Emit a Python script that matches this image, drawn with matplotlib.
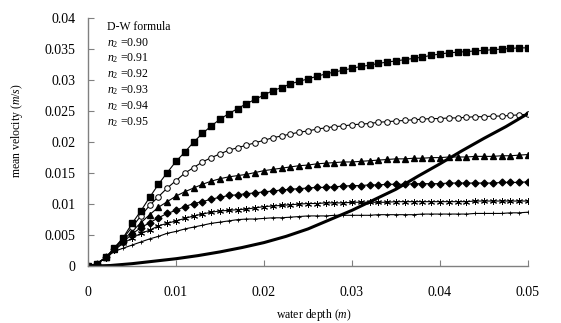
import numpy as np
import matplotlib
matplotlib.use('Agg')
import matplotlib.pyplot as plt

plt.rcParams['font.family'] = 'Liberation Serif'
plt.rcParams['mathtext.fontset'] = 'custom'
plt.rcParams['mathtext.rm'] = 'Liberation Serif'
plt.rcParams['mathtext.it'] = 'Liberation Serif:italic'

# water depth grid (m)
depth = np.round(np.arange(51) * 0.001, 3)

v_square = [0, .0004, .0014, .0030, .0046, .0069, .0089, .0111, .0132, .0151, .0169,
            .0184, .0200, .0214, .0226, .0237, .0246, .0254, .0262, .0269, .0276,
            .0283, .0288, .0294, .0298, .0302, .0306, .0310, .0313, .0316, .0319,
            .0322, .0324, .0327, .0329, .0331, .0333, .0335, .0337, .0340, .0342,
            .0344, .0345, .0346, .0347, .0348, .0349, .0350, .0351, .0352, .0352]
v_circle = [0, .0004, .0014, .0029, .0045, .0063, .0081, .0098, .0112, .0126, .0138,
            .0150, .0159, .0168, .0175, .0181, .0187, .0191, .0195, .0199, .0203,
            .0207, .0210, .0213, .0216, .0218, .0221, .0223, .0225, .0226, .0228,
            .0229, .0230, .0232, .0233, .0234, .0235, .0236, .0237, .0238, .0238,
            .0239, .0239, .0240, .0241, .0241, .0242, .0242, .0243, .0244, .0245]
v_triangle = [0, .0004, .0014, .0028, .0042, .0056, .0070, .0083, .0095, .0104, .0113,
              .0120, .0126, .0132, .0137, .0141, .0144, .0146, .0148, .0151, .0154,
              .0156, .0158, .0160, .0162, .0163, .0165, .0166, .0167, .0168, .0168,
              .0169, .0170, .0171, .0172, .0173, .0173, .0174, .0174, .0175, .0175,
              .0176, .0176, .0176, .0177, .0177, .0177, .0178, .0178, .0179, .0180]
v_diamond = [0, .0004, .0014, .0027, .0039, .0052, .0062, .0070, .0078, .0085, .0090,
             .0096, .0101, .0104, .0108, .0111, .0114, .0115, .0117, .0118, .0120,
             .0121, .0123, .0124, .0125, .0126, .0127, .0127, .0128, .0129, .0130,
             .0130, .0131, .0131, .0132, .0132, .0132, .0133, .0133, .0133, .0133,
             .0134, .0134, .0134, .0134, .0134, .0134, .0135, .0135, .0135, .0136]
v_star = [0, .0004, .0013, .0026, .0037, .0045, .0053, .0058, .0065, .0069, .0073,
          .0077, .0081, .0084, .0087, .0089, .0090, .0091, .0092, .0094, .0096,
          .0097, .0098, .0099, .0100, .0101, .0101, .0102, .0102, .0102, .0103,
          .0103, .0103, .0103, .0103, .0104, .0104, .0104, .0104, .0104, .0104,
          .0104, .0104, .0104, .0105, .0105, .0105, .0105, .0105, .0105, .0105]
v_plus = [0, .0004, .0013, .0024, .0029, .0034, .0039, .0044, .0048, .0053, .0056,
          .0060, .0063, .0066, .0069, .0071, .0073, .0075, .0076, .0076, .0077,
          .0078, .0078, .0079, .0080, .0081, .0081, .0081, .0082, .0082, .0082,
          .0082, .0082, .0083, .0083, .0083, .0083, .0083, .0084, .0084, .0084,
          .0084, .0084, .0084, .0085, .0085, .0085, .0085, .0086, .0086, .0087]

# D-W formula
dw_depth = [0, .0025, .005, .0075, .01, .0125, .015, .0175, .02, .0225, .025,
            .0275, .03, .0325, .035, .0375, .04, .0425, .045, .0475, .05]
dw_vel = [0, .0001, .0004, .0008, .0012, .0017, .0023, .0030, .0038, .0048, .0060,
          .0075, .0090, .0107, .0124, .0145, .0165, .0186, .0206, .0225, .0246]

legend_lines = ['D-W formula', '$n_2$ =0.90', '$n_2$ =0.91', '$n_2$ =0.92',
                '$n_2$ =0.93', '$n_2$ =0.94', '$n_2$ =0.95']

fig = plt.figure(figsize=(5.61, 3.23), dpi=100)
ax = fig.add_axes([0.157, 0.176, 0.784, 0.768])

lw = 0.8
ax.plot(depth, v_plus, color='black', lw=lw, marker='+', ms=3, mew=0.6)
ax.plot(depth, v_star, color='black', lw=lw, marker=(6, 2, 0), ms=5, mew=0.7)
ax.plot(depth, v_diamond, color='black', lw=lw, marker='D', ms=3.5)
ax.plot(depth, v_triangle, color='black', lw=lw, marker='^', ms=4.5)
ax.plot(depth, v_circle, color='black', lw=lw, marker='o', ms=4, mfc='white', mew=0.7)
ax.plot(depth, v_square, color='black', lw=lw, marker='s', ms=4.5)
ax.plot(dw_depth, dw_vel, color='black', lw=2.2)

ax.set_xlim(0, 0.05)
ax.set_ylim(0, 0.04)
ax.set_xticks([0, 0.01, 0.02, 0.03, 0.04, 0.05])
ax.set_xticklabels(['0', '0.01', '0.02', '0.03', '0.04', '0.05'])
ax.set_yticks(np.arange(0, 0.0401, 0.005))
ax.set_yticklabels(['0', '0.005', '0.01', '0.015', '0.02', '0.025', '0.03', '0.035', '0.04'])

for s in ['top', 'right']:
    ax.spines[s].set_visible(False)
for s in ['left', 'bottom']:
    ax.spines[s].set_color('#808080')
    ax.spines[s].set_linewidth(1.0)
ax.tick_params(axis='both', direction='in', length=4, color='#808080', labelsize=10)
ax.tick_params(axis='x', pad=14)
ax.tick_params(axis='y', pad=9)

fig.text(0.560, 0.025, 'water depth ($\\mathit{m}$)', fontsize=8.5, ha='center', va='center')
fig.text(0.030, 0.594, 'mean velocity ($\\mathit{m/s}$)', fontsize=8.5, ha='center',
         va='center', rotation=90)

for i, t in enumerate(legend_lines):
    ax.text(0.043, 0.965 - i * 0.064, t, transform=ax.transAxes, fontsize=8.5,
            va='center', ha='left')

fig.savefig('out.png', dpi=100)
